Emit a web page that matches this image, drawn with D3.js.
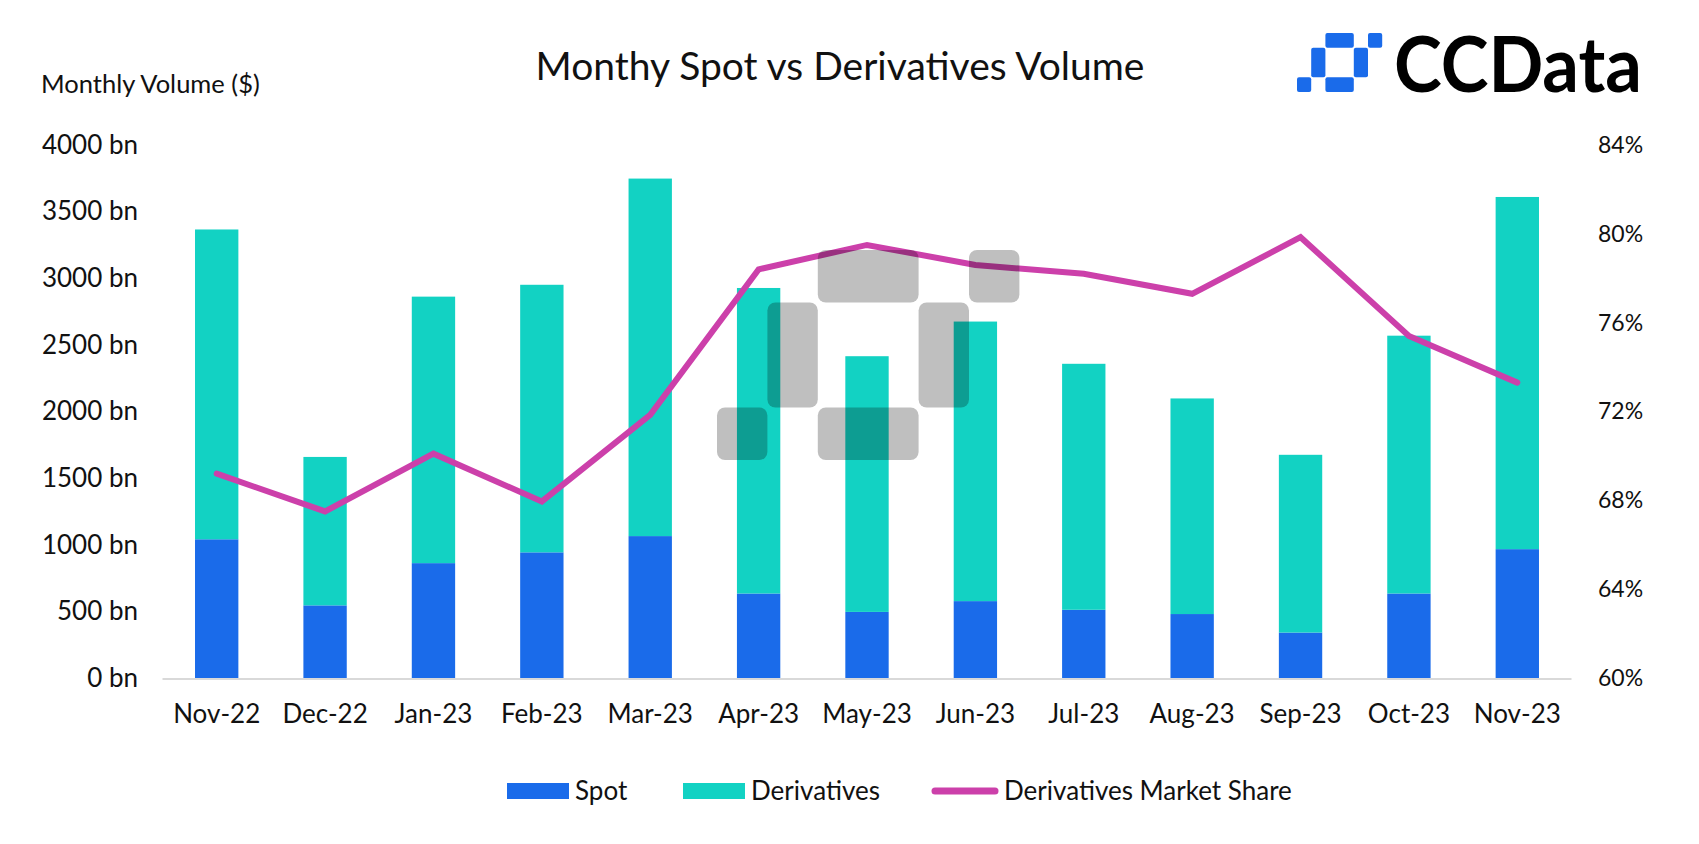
<!DOCTYPE html>
<html>
<head>
<meta charset="utf-8">
<script src="https://cdn.jsdelivr.net/npm/d3@7"></script>
<style>
  html, body { margin: 0; padding: 0; background: #ffffff; }
  svg { display: block; font-family: Lato, "Noto Sans", sans-serif; }
</style>
</head>
<body>
<svg id="chart" width="1699" height="844"></svg>
<script>
const months = ["Nov-22","Dec-22","Jan-23","Feb-23","Mar-23","Apr-23","May-23","Jun-23","Jul-23","Aug-23","Sep-23","Oct-23","Nov-23"];
const spot = [1041, 545, 862, 943, 1065, 634, 496, 577, 512, 480, 341, 634, 967];
const derivatives = [2325, 1114, 2000, 2008, 2683, 2293, 1919, 2098, 1846, 1618, 1334, 1935, 2643];
const share = [69.2, 67.5, 70.1, 67.95, 71.85, 78.4, 79.5, 78.6, 78.2, 77.3, 79.85, 75.4, 73.3];
const leftTicks = [0, 500, 1000, 1500, 2000, 2500, 3000, 3500, 4000];
const rightTicks = [60, 64, 68, 72, 76, 80, 84];

const colors = { spot: "#1A6BEA", deriv: "#12D2C3", line: "#CC40AA", axis: "#D9D9D9", text: "#111111" };

const svg = d3.select("#chart");
const plot = { left: 162.5, right: 1571.5, top: 145, bottom: 678 };

const x = d3.scaleBand().domain(months).range([plot.left, plot.right]).paddingInner(0.6).paddingOuter(0.3);
const y = d3.scaleLinear().domain([0, 4000]).range([plot.bottom, plot.top]);
const y2 = d3.scaleLinear().domain([60, 84]).range([plot.bottom, plot.top]);

// Title
svg.append("text").attr("x", 840).attr("y", 80).attr("text-anchor", "middle")
  .attr("font-size", 39).attr("fill", colors.text).text("Monthy Spot vs Derivatives Volume");
svg.append("text").attr("x", 41).attr("y", 93).attr("font-size", 25.5).attr("fill", colors.text)
  .text("Monthly Volume ($)");

// Bars
const rows = months.map((m, i) => ({ m, s: spot[i], d: derivatives[i] }));
svg.append("g").selectAll("rect.spot").data(rows).join("rect")
  .attr("x", d => x(d.m)).attr("width", x.bandwidth())
  .attr("y", d => y(d.s)).attr("height", d => y(0) - y(d.s)).attr("fill", colors.spot);
svg.append("g").selectAll("rect.deriv").data(rows).join("rect")
  .attr("x", d => x(d.m)).attr("width", x.bandwidth())
  .attr("y", d => y(d.s + d.d)).attr("height", d => y(d.s) - y(d.s + d.d)).attr("fill", colors.deriv);

// Baseline
svg.append("line").attr("x1", plot.left).attr("x2", plot.right).attr("y1", y(0) + 1).attr("y2", y(0) + 1)
  .attr("stroke", colors.axis).attr("stroke-width", 2);

// Left axis
const yAxis = d3.axisLeft(y).tickValues(leftTicks).tickFormat(d => d + " bn").tickSize(0).tickPadding(0);
const gl = svg.append("g").attr("transform", "translate(138,0)").call(yAxis);
gl.select(".domain").remove();
gl.selectAll("text").attr("font-size", 26).attr("fill", colors.text).attr("font-family", "Lato");

// Right axis
const y2Axis = d3.axisRight(y2).tickValues(rightTicks).tickFormat(d => d + "%").tickSize(0).tickPadding(0);
const gr = svg.append("g").attr("transform", "translate(1598,0)").call(y2Axis);
gr.select(".domain").remove();
gr.selectAll("text").attr("font-size", 23).attr("fill", colors.text).attr("font-family", "Lato");

// X axis
const xAxis = d3.axisBottom(x).tickSize(0).tickPadding(0);
const gx = svg.append("g").attr("transform", "translate(0,705)").call(xAxis);
gx.select(".domain").remove();
gx.selectAll("text").attr("font-size", 26).attr("fill", colors.text).attr("font-family", "Lato");

// Line
const line = d3.line().x((d, i) => x(months[i]) + x.bandwidth() / 2).y(d => y2(d));
svg.append("path").datum(share).attr("d", line).attr("fill", "none")
  .attr("stroke", colors.line).attr("stroke-width", 6).attr("stroke-linejoin", "miter").attr("stroke-linecap", "round");

// Icon drawer
function drawIcon(g, x0, y0, ux, uy, fill, opacity, r) {
  const cx = [0, 1, 2, 4, 5, 6].map(v => x0 + v * ux);
  const ry = [0, 1, 3, 4].map(v => y0 + v * uy);
  const parts = [
    [2, 0, 3, 1], // top bar
    [1, 1, 2, 2], // left bar
    [3, 1, 4, 2], // right bar
    [2, 2, 3, 3], // bottom bar
    [0, 2, 1, 3], // bottom-left square
    [4, 0, 5, 1]  // top-right square
  ];
  g.selectAll(null).data(parts).join("rect")
    .attr("x", p => cx[p[0]]).attr("y", p => ry[p[1]])
    .attr("width", p => cx[p[2]] - cx[p[0]]).attr("height", p => ry[p[3]] - ry[p[1]])
    .attr("rx", r).attr("fill", fill).attr("fill-opacity", opacity);
}

// Watermark
drawIcon(svg.append("g"), 717, 250, 50.4, 52.5, "#000000", 0.25, 8);

// Logo
drawIcon(svg.append("g"), 1297, 33, 14.2, 14.75, "#1A6BEA", 1, 2);
svg.append("text").attr("x", 1394).attr("y", 92).attr("font-size", 77).attr("font-weight", 700)
  .attr("fill", "#000000").attr("textLength", 248).attr("lengthAdjust", "spacingAndGlyphs").text("CCData");

// Legend
const lg = svg.append("g");
lg.append("rect").attr("x", 507).attr("y", 783).attr("width", 62).attr("height", 16).attr("fill", colors.spot);
lg.append("text").attr("x", 575).attr("y", 800).attr("font-size", 26).attr("fill", colors.text).text("Spot");
lg.append("rect").attr("x", 683).attr("y", 783).attr("width", 62).attr("height", 16).attr("fill", colors.deriv);
lg.append("text").attr("x", 751).attr("y", 800).attr("font-size", 26).attr("fill", colors.text).text("Derivatives");
lg.append("line").attr("x1", 935).attr("x2", 995).attr("y1", 791).attr("y2", 791)
  .attr("stroke", colors.line).attr("stroke-width", 7).attr("stroke-linecap", "round");
lg.append("text").attr("x", 1004).attr("y", 800).attr("font-size", 26).attr("fill", colors.text).text("Derivatives Market Share");
</script>
</body>
</html>
